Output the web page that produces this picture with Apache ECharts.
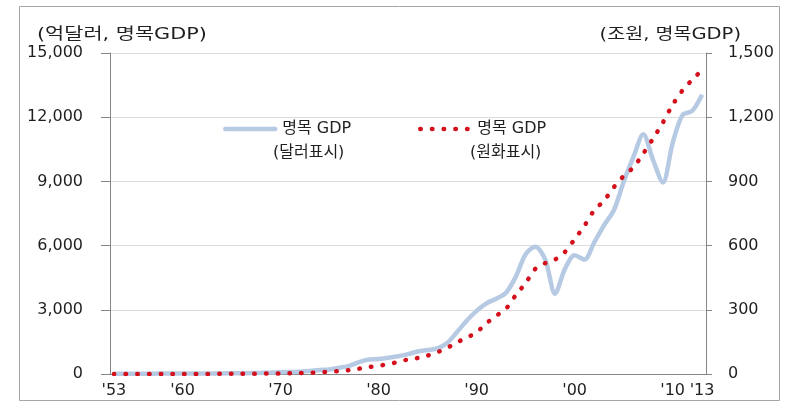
<!DOCTYPE html>
<html>
<head>
<meta charset="utf-8">
<script src="https://cdn.jsdelivr.net/npm/echarts@6/dist/echarts.min.js"></script>
<style>
  html, body { margin: 0; padding: 0; background: #fff; }
  #chart { width: 788px; height: 404px; }
</style>
</head>
<body>
<div id="chart"></div>
<script>
// years on the x axis
const years = [
  1953, 1954, 1955, 1956, 1957, 1958, 1959, 1960, 1961, 1962,
  1963, 1964, 1965, 1966, 1967, 1968, 1969, 1970, 1971, 1972,
  1973, 1974, 1975, 1976, 1977, 1978, 1979, 1980, 1981, 1982,
  1983, 1984, 1985, 1986, 1987, 1988, 1989, 1990, 1991, 1992,
  1993, 1994, 1995, 1996, 1997, 1998, 1999, 2000, 2001, 2002,
  2003, 2004, 2005, 2006, 2007, 2008, 2009, 2010, 2011, 2012,
  2013,
]

// 명목 GDP, 억달러 (left axis)
const gdpUsd = [
  13, 15, 14, 14, 17, 19, 19, 20, 21, 23,
  27, 29, 30, 37, 43, 53, 66, 81, 95, 108,
  138, 190, 210, 290, 380, 560, 680, 700, 760, 830,
  930, 1050, 1120, 1200, 1450, 1960, 2500, 2950, 3300, 3520,
  3800, 4550, 5600, 5950, 5350, 3750, 4900, 5550, 5350, 6150,
  6950, 7650, 8980, 10150, 11200, 10000, 8950, 10800, 12100, 12300,
  13050,
]

// 명목 GDP, 조원 (right axis)
const gdpKrw = [
  0.05, 0.07, 0.11, 0.15, 0.2, 0.21, 0.22, 0.25, 0.3, 0.36,
  0.51, 0.73, 0.8, 1.03, 1.28, 1.65, 2.15, 2.8, 3.44, 4.27,
  5.53, 7.88, 10.5, 14.3, 18.3, 24.9, 32.4, 38, 47, 56,
  68, 75, 86, 102, 122, 148, 170, 195, 237, 272,
  305, 369, 425, 492, 518, 535, 570, 630, 693, 765,
  810, 873, 925, 966, 1030, 1100, 1175, 1258, 1325, 1375,
  1420,
]

const xTicks = [1953, 1960, 1970, 1980, 1990, 2000, 2010, 2013]
const usdTicks = { min: 0, max: 15000, step: 3000 }
const krwTicks = { min: 0, max: 1500, step: 300 }

const usdTitle = '(억달러, 명목GDP)'
const krwTitle = '(조원, 명목GDP)'
const legendNames = { usd: '명목 GDP', krw: '명목 GDP' }
const legendSub = { usd: '(달러표시)', krw: '(원화표시)' }

const FONT = '"DejaVu Sans", "Noto Sans CJK KR", sans-serif'
const TEXT = '#1f1f1f'
const AXIS = '#868686'

const chart = echarts.init(document.getElementById('chart'))

// legend shows only the line, not the series symbol
const legendBase = {
  top: 116,
  itemWidth: 50,
  itemHeight: 14,
  itemGap: 0,
  itemStyle: { opacity: 0 },
  lineStyle: { width: 4.5, cap: 'round' },
  formatter: (n) => legendNames[n],
  textStyle: { fontSize: 16, color: TEXT, fontFamily: FONT, padding: [0, 0, 0, 2] },
}

chart.setOption({
  animation: false,
  textStyle: { fontFamily: FONT, color: TEXT },
  grid: { left: 110, right: 82, top: 53, bottom: 30, containLabel: false },
  xAxis: {
    type: 'value',
    min: 1952.6,
    max: 2013.4,
    axisLine: { show: true, lineStyle: { color: AXIS, width: 1 } },
    axisTick: { show: false },
    splitLine: { show: false },
    axisLabel: {
      customValues: xTicks,
      formatter: (v) => "'" + String(v).slice(2),
      margin: 9,
      fontSize: 16,
      color: TEXT,
      fontFamily: FONT,
    },
  },
  yAxis: [
    {
      type: 'value',
      position: 'left',
      min: usdTicks.min,
      max: usdTicks.max,
      interval: usdTicks.step,
      axisLine: { show: true, lineStyle: { color: AXIS, width: 1 } },
      axisTick: { show: true, length: 9, lineStyle: { color: AXIS } },
      splitLine: { show: true, lineStyle: { color: '#dcdcdc', width: 1 } },
      axisLabel: {
        margin: 27,
        fontSize: 16,
        color: TEXT,
        fontFamily: FONT,
        formatter: (v) => v.toLocaleString('en-US'),
      },
    },
    {
      type: 'value',
      position: 'right',
      min: krwTicks.min,
      max: krwTicks.max,
      interval: krwTicks.step,
      axisLine: { show: true, lineStyle: { color: AXIS, width: 1 } },
      axisTick: { show: true, length: 6, lineStyle: { color: AXIS } },
      splitLine: { show: false },
      axisLabel: {
        margin: 22,
        fontSize: 16,
        color: TEXT,
        fontFamily: FONT,
        formatter: (v) => v.toLocaleString('en-US'),
      },
    },
  ],
  legend: [
    { ...legendBase, data: ['usd'], left: 218 },
    { ...legendBase, data: ['krw'], left: 413 },
  ],
  graphic: [
    {
      type: 'rect',
      shape: { x: 19.5, y: 6.5, width: 760, height: 394 },
      style: { fill: 'none', stroke: '#a6a6a6', lineWidth: 1 },
      silent: true,
    },
    {
      type: 'text',
      x: 37,
      y: 35,
      scaleX: 1.3,
      style: { text: usdTitle, font: '16px ' + FONT, fill: TEXT, align: 'left', verticalAlign: 'middle' },
    },
    {
      type: 'text',
      x: 741,
      y: 35,
      scaleX: 1.22,
      style: { text: krwTitle, font: '16px ' + FONT, fill: TEXT, align: 'right', verticalAlign: 'middle' },
    },
    {
      type: 'text',
      x: 273,
      y: 153,
      style: { text: legendSub.usd, font: '16px ' + FONT, fill: TEXT, align: 'left', verticalAlign: 'middle' },
    },
    {
      type: 'text',
      x: 470,
      y: 153,
      style: { text: legendSub.krw, font: '16px ' + FONT, fill: TEXT, align: 'left', verticalAlign: 'middle' },
    },
  ],
  series: [
    {
      name: 'usd',
      type: 'line',
      yAxisIndex: 0,
      data: years.map((y, i) => [y, gdpUsd[i]]),
      smooth: 0.3,
      symbol: 'none',
      lineStyle: { color: '#b7cae4', width: 4.5 },
      itemStyle: { color: '#b7cae4' },
      z: 2,
    },
    {
      name: 'krw',
      type: 'line',
      yAxisIndex: 1,
      data: years.map((y, i) => [y, gdpKrw[i]]),
      smooth: 0.3,
      symbol: 'none',
      lineStyle: { color: '#d3101c', width: 4.5, type: [0.5, 11.2], cap: 'round' },
      itemStyle: { color: '#d3101c' },
      z: 3,
    },
  ],
})
</script>
</body>
</html>
